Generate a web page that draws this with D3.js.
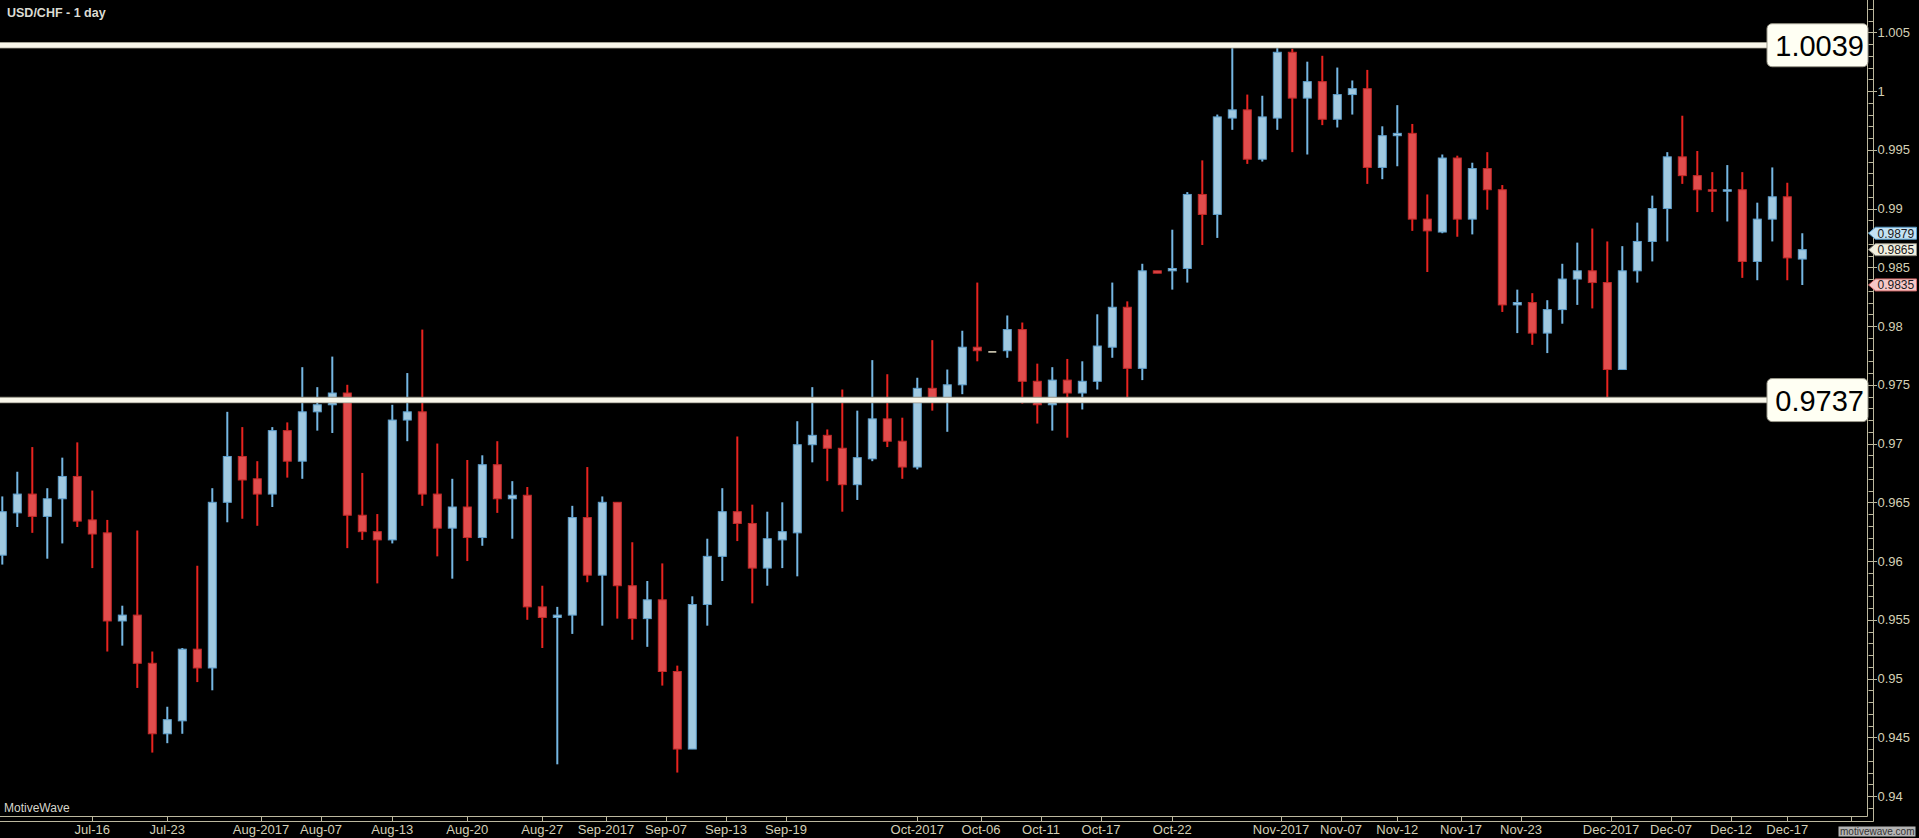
<!DOCTYPE html>
<html><head><meta charset="utf-8">
<script src="https://cdn.jsdelivr.net/npm/d3@7"></script>
<style>
html,body{margin:0;padding:0;background:#000;overflow:hidden}
svg{display:block}
</style></head>
<body>
<script>
// ---- data (daily bars, USD/CHF) ----
const openP = [
0.9605,0.9641,0.9657,0.9638,0.9653,0.9672,0.9635,0.9624,0.9549,0.9554,
0.9513,0.9453,0.9464,0.9525,0.9509,0.9650,0.9689,0.9670,0.9657,0.9711,
0.9685,0.9727,0.9733,0.9743,0.9639,0.9625,0.9618,0.9720,0.9727,0.9657,
0.9628,0.9646,0.9620,0.9682,0.9653,0.9656,0.9561,0.9552,0.9554,0.9637,
0.9588,0.9650,0.9579,0.9551,0.9567,0.9506,0.9440,0.9563,0.9604,0.9642,
0.9632,0.9594,0.9618,0.9624,0.9699,0.9707,0.9696,0.9665,0.9687,0.9721,
0.9702,0.9680,0.9747,0.9739,0.9750,0.9782,0.9778,0.9779,0.9797,0.9753,
0.9733,0.9754,0.9743,0.9753,0.9782,0.9816,0.9764,0.9847,0.9847,0.9849,
0.9912,0.9895,0.9977,0.9984,0.9942,0.9977,1.0033,0.9994,1.0008,0.9976,
0.9997,1.0002,0.9935,0.9962,0.9964,0.9891,0.9880,0.9943,0.9891,0.9934,
0.9916,0.9818,0.9820,0.9794,0.9814,0.9840,0.9847,0.9837,0.9763,0.9847,
0.9872,0.9900,0.9944,0.9928,0.9916,0.9915,0.9916,0.9855,0.9891,0.9910,
0.9857];
const highP = [
0.9655,0.9676,0.9697,0.9662,0.9688,0.9701,0.9660,0.9635,0.9562,0.9626,
0.9523,0.9476,0.9526,0.9596,0.9662,0.9727,0.9714,0.9685,0.9714,0.9718,
0.9765,0.9748,0.9774,0.9750,0.9675,0.9640,0.9733,0.9760,0.9797,0.9700,
0.9670,0.9686,0.9690,0.9702,0.9668,0.9663,0.9579,0.9561,0.9647,0.9680,
0.9655,0.9650,0.9616,0.9583,0.9598,0.9511,0.9570,0.9619,0.9662,0.9706,
0.9648,0.9642,0.9650,0.9719,0.9748,0.9712,0.9746,0.9728,0.9771,0.9759,
0.9722,0.9756,0.9788,0.9763,0.9796,0.9837,0.9778,0.9809,0.9803,0.9768,
0.9765,0.9772,0.9770,0.9810,0.9837,0.9821,0.9853,0.9847,0.9882,0.9914,
0.9941,0.9980,1.0039,0.9997,0.9996,1.0038,1.0036,1.0025,1.0030,1.0020,
1.0009,1.0018,0.9970,0.9988,0.9972,0.9912,0.9946,0.9945,0.9939,0.9948,
0.9920,0.9831,0.9828,0.9822,0.9853,0.9871,0.9883,0.9872,0.9868,0.9888,
0.9911,0.9948,0.9979,0.9949,0.9931,0.9937,0.9931,0.9905,0.9935,0.9922,
0.9879];
const lowP = [
0.9597,0.9629,0.9624,0.9602,0.9615,0.9629,0.9594,0.9523,0.9528,0.9492,
0.9437,0.9445,0.9453,0.9497,0.9490,0.9633,0.9636,0.9630,0.9646,0.9671,
0.9670,0.9711,0.9709,0.9611,0.9618,0.9581,0.9615,0.9702,0.9647,0.9604,
0.9585,0.9600,0.9613,0.9641,0.9619,0.9550,0.9526,0.9427,0.9538,0.9582,
0.9545,0.9551,0.9533,0.9527,0.9494,0.9420,0.9440,0.9545,0.9583,0.9617,
0.9564,0.9579,0.9594,0.9587,0.9684,0.9668,0.9642,0.9652,0.9685,0.9697,
0.9670,0.9678,0.9728,0.9710,0.9742,0.9770,0.9778,0.9773,0.9734,0.9717,
0.9711,0.9705,0.9729,0.9746,0.9773,0.9736,0.9754,0.9845,0.9831,0.9837,
0.9869,0.9875,0.9967,0.9938,0.9940,0.9967,0.9948,0.9946,0.9971,0.9969,
0.9980,0.9921,0.9925,0.9936,0.9881,0.9846,0.9879,0.9876,0.9878,0.9899,
0.9812,0.9794,0.9784,0.9777,0.9802,0.9818,0.9815,0.9737,0.9763,0.9837,
0.9855,0.9872,0.9921,0.9897,0.9897,0.9889,0.9841,0.9839,0.9872,0.9839,
0.9835];
const closeP = [
0.9642,0.9657,0.9638,0.9653,0.9672,0.9634,0.9623,0.9549,0.9554,0.9513,
0.9453,0.9465,0.9525,0.9509,0.9650,0.9689,0.9669,0.9657,0.9711,0.9685,
0.9727,0.9733,0.9743,0.9639,0.9625,0.9618,0.9720,0.9727,0.9657,0.9628,
0.9646,0.9620,0.9682,0.9653,0.9656,0.9561,0.9552,0.9554,0.9637,0.9588,
0.9650,0.9579,0.9551,0.9567,0.9506,0.9440,0.9563,0.9604,0.9642,0.9632,
0.9594,0.9619,0.9625,0.9699,0.9707,0.9696,0.9665,0.9688,0.9721,0.9702,
0.9680,0.9747,0.9739,0.9750,0.9782,0.9779,0.9778,0.9797,0.9753,0.9733,
0.9754,0.9743,0.9753,0.9783,0.9816,0.9764,0.9847,0.9845,0.9849,0.9912,
0.9895,0.9978,0.9984,0.9942,0.9978,1.0033,0.9994,1.0008,0.9976,0.9997,
1.0002,0.9935,0.9962,0.9964,0.9891,0.9881,0.9943,0.9891,0.9934,0.9916,
0.9818,0.9820,0.9794,0.9814,0.9840,0.9847,0.9837,0.9763,0.9847,0.9872,
0.9900,0.9944,0.9928,0.9916,0.9915,0.9916,0.9855,0.9891,0.9910,0.9858,
0.9865];

// time axis: labels and their position in bar units (bars are daily sessions)
const tickLabels = ["Jul-16","Jul-23","Aug-2017","Aug-07","Aug-13","Aug-20","Aug-27","Sep-2017",
  "Sep-07","Sep-13","Sep-19","Oct-2017","Oct-06","Oct-11","Oct-17","Oct-22","Nov-2017","Nov-07",
  "Nov-12","Nov-17","Nov-23","Dec-2017","Dec-07","Dec-12","Dec-17",""];
const tickBars = [6,11,17.25,21.25,26,31,36,40.25,44.25,48.25,52.25,61,65.25,69.25,73.25,78,
  85.25,89.25,93,97.25,101.25,107.25,111.25,115.25,119,123.25];

// horizontal price levels
const levels = [1.0039, 0.9737];
const yDomain = [0.94, 1.005];
const title = "USD/CHF - 1 day";

// ---- drawing ----
const W = 1919, H = 838;
const plotRight = 1867.5, plotBottom = 816, axisX = 1873.5, axisY = 821;
const FONT = "'Liberation Sans', Arial, sans-serif";
const axisCol = "#bcb89e", labelCol = "#d4d0b6";

const svg = d3.select("body").append("svg").attr("width", W).attr("height", H)
  .style("font-family", FONT);
svg.append("rect").attr("width", W).attr("height", H).attr("fill", "#000");

const n = closeP.length;
const x = d3.scaleLinear().domain([0, n - 1]).range([2.3, 2.3 + 15 * (n - 1)]);
const y = d3.scaleLinear().domain(yDomain).range([796.05, 32.3]);

svg.append("defs").append("clipPath").attr("id", "plotclip")
  .append("rect").attr("x", 0).attr("y", 0).attr("width", plotRight).attr("height", plotBottom);

// y axis ticks
const yMin = y.invert(plotBottom), yMax = y.invert(0);
const minorVals = d3.range(Math.ceil(yMin * 1000), Math.floor(yMax * 1000) + 1).map(k => k / 1000);
const gy = svg.append("g");
minorVals.forEach(v => {
  const k = Math.round(v * 1000);
  const major = k % 5 === 0;
  const yy = Math.round(y(v)) + 0.5;
  gy.append("line").attr("x1", major ? plotRight : axisX - 5).attr("x2", major ? axisX + 3.5 : axisX)
    .attr("y1", yy).attr("y2", yy).attr("stroke", axisCol).attr("stroke-width", 1);
  if (major) {
    gy.append("text").attr("x", axisX + 4).attr("y", y(v)).attr("dy", "0.36em")
      .attr("fill", labelCol).attr("font-size", 13).text(String(+v.toFixed(3)));
  }
});

// frame & axis lines
const gf = svg.append("g").attr("stroke", axisCol).attr("stroke-width", 1).attr("fill", "none");
gf.append("line").attr("x1", plotRight).attr("x2", plotRight).attr("y1", 0).attr("y2", plotBottom + 0.5);
gf.append("line").attr("x1", axisX).attr("x2", axisX).attr("y1", 0).attr("y2", axisY + 0.5);
gf.append("line").attr("x1", 0).attr("x2", plotRight).attr("y1", plotBottom + 0.5).attr("y2", plotBottom + 0.5);
gf.append("line").attr("x1", 0).attr("x2", axisX).attr("y1", axisY + 0.5).attr("y2", axisY + 0.5);

// x axis ticks and labels
const gx = svg.append("g");
tickBars.forEach((b, k) => {
  const xx = Math.round(x(b)) + 0.5;
  gx.append("line").attr("x1", xx).attr("x2", xx).attr("y1", plotBottom).attr("y2", axisY)
    .attr("stroke", axisCol);
  if (tickLabels[k]) gx.append("text").attr("x", x(b)).attr("y", 833.5).attr("text-anchor", "middle")
    .attr("fill", labelCol).attr("font-size", 13).text(tickLabels[k]);
});

// candles
const bars = d3.range(n).map(i => ({i, o: openP[i], h: highP[i], l: lowP[i], c: closeP[i]}));
const gc = svg.append("g").attr("clip-path", "url(#plotclip)");
const upFill = "#a0c9e0", upStroke = "#5e9fcb", upWick = "#74b6e2";
const dnFill = "#e04c4c", dnStroke = "#c42a2a", dnWick = "#e8231f";
const dojiCol = "#e2dcc4";
bars.forEach(d => {
  const cx = x(d.i);
  const up = d.c > d.o, flat = d.c === d.o;
  const wickCol = flat ? dojiCol : (up ? upWick : dnWick);
  if (d.h > d.l) {
    gc.append("line").attr("x1", cx).attr("x2", cx).attr("y1", y(d.h)).attr("y2", y(d.l))
      .attr("stroke", wickCol).attr("stroke-width", 2);
  }
  const top = y(Math.max(d.o, d.c)), bot = y(Math.min(d.o, d.c));
  const hgt = Math.max(1.5, bot - top);
  gc.append("rect").attr("x", cx - 4).attr("y", flat ? top - 0.75 : top).attr("width", 8).attr("height", hgt)
    .attr("fill", flat ? dojiCol : (up ? upFill : dnFill))
    .attr("stroke", flat ? "none" : (up ? upStroke : dnStroke)).attr("stroke-width", 1);
});

// horizontal level lines with labels
const boxLeft = 1767, boxW = 101, boxH = 43;
levels.forEach(v => {
  const yy = y(v);
  svg.append("line").attr("x1", 0).attr("x2", boxLeft).attr("y1", yy).attr("y2", yy)
    .attr("stroke", "#8e8c80").attr("stroke-width", 6.5).attr("opacity", 0.95);
  svg.append("line").attr("x1", 0).attr("x2", boxLeft).attr("y1", yy).attr("y2", yy)
    .attr("stroke", "#fffdf0").attr("stroke-width", 4.8).attr("opacity", 0.95);
  svg.append("rect").attr("x", boxLeft).attr("y", yy - boxH / 2).attr("width", boxW).attr("height", boxH)
    .attr("rx", 5).attr("ry", 5).attr("fill", "#fffff3").attr("stroke", "#9a988a").attr("stroke-width", 1);
  svg.append("text").attr("x", boxLeft + boxW - 4).attr("y", yy).attr("dy", "0.36em")
    .attr("text-anchor", "end").attr("font-size", 29).attr("fill", "#000").text(v.toFixed(4));
});

// last-bar price tags on the axis (high, close, low)
const last = bars[n - 1];
const tags = [
  {v: last.h, fill: "#c4e2f3", stroke: "#5a9fcc"},
  {v: last.c, fill: "#f1efdf", stroke: "#8f8d80"},
  {v: last.l, fill: "#f6c7c7", stroke: "#d06868"}
];
tags.forEach(t => {
  const yc = y(t.v);
  const p = d3.path();
  p.moveTo(plotRight + 1, yc);
  p.lineTo(axisX + 2, yc - 6);
  p.lineTo(1916.5, yc - 6);
  p.lineTo(1916.5, yc + 6);
  p.lineTo(axisX + 2, yc + 6);
  p.closePath();
  svg.append("path").attr("d", p.toString()).attr("fill", t.fill).attr("stroke", t.stroke).attr("stroke-width", 1);
  svg.append("text").attr("x", axisX + 4).attr("y", yc).attr("dy", "0.36em").attr("font-size", 12)
    .attr("fill", "#1a1a22").text(t.v.toFixed(4));
});

// texts
svg.append("text").attr("x", 7).attr("y", 17).attr("font-size", 12.5).attr("font-weight", "bold")
  .attr("fill", "#dcdcd4").text(title);
svg.append("text").attr("x", 4).attr("y", 811.5).attr("font-size", 12)
  .attr("fill", "#d6d6cc").text("MotiveWave");
svg.append("rect").attr("x", 1838.5).attr("y", 826.5).attr("width", 77).attr("height", 10).attr("fill", "#b4b4b4");
svg.append("text").attr("x", 1840).attr("y", 835).attr("font-size", 10).attr("fill", "#333")
  .text("motivewave.com");
</script>
</body></html>
